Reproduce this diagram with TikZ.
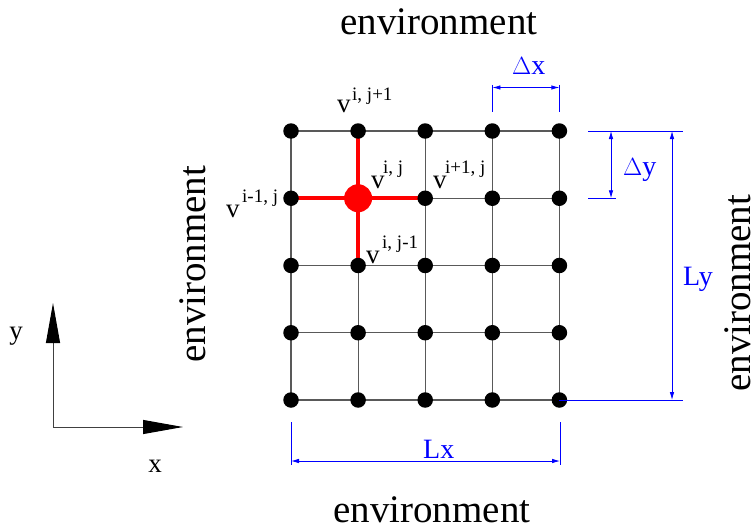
\documentclass[tikz,border=0pt]{standalone}
\usepackage{fontspec}
\setmainfont{Liberation Serif}
\usetikzlibrary{arrows.meta}
\begin{document}
\begin{tikzpicture}[x=1pt,y=-1pt,
  dot/.style={circle,fill=black,inner sep=0pt,minimum size=15.5pt},
  bigdot/.style={circle,fill=red,inner sep=0pt,minimum size=28pt},
  gridline/.style={draw=black!65,line width=1.2pt},
  redline/.style={draw=red,line width=4.2pt},
  dimline/.style={draw=blue,line width=0.8pt},
  dimarrow/.style={dimline,{Latex[length=8pt,width=4.5pt]}-{Latex[length=8pt,width=4.5pt]}},
  envtext/.style={font=\fontsize{39}{39}\selectfont,inner sep=0pt,anchor=base west},
  dimlabel/.style={text=blue,font=\fontsize{28}{28}\selectfont,inner sep=0pt,anchor=base west},
  vtext/.style={font=\fontsize{27}{27}\selectfont,inner sep=0pt,anchor=base west},
  suptext/.style={font=\fontsize{19}{19}\selectfont,inner sep=0pt,anchor=base west},
  axis/.style={draw=black!75,line width=1pt,-{Triangle[length=40pt,width=14pt,fill=black,color=black]}},
]
\useasboundingbox (0,0) rectangle (754,532);

% grid coordinates
\foreach \i in {0,...,4}{
  \foreach \j in {0,...,4}{
    \coordinate (p-\i-\j) at ({291+67.1*\i},{131+67.25*\j});
  }
}
% grid lines
\foreach \k in {0,...,4}{
  \draw[gridline] (p-0-\k) -- (p-4-\k);
  \draw[gridline] (p-\k-0) -- (p-\k-4);
}
% red stencil
\draw[redline] (p-1-0) -- (p-1-2);
\draw[redline] (p-0-1) -- (p-2-1);
\node[bigdot] (centre) at (p-1-1) {};
% dots
\foreach \i in {0,...,4}{
  \foreach \j in {0,...,4}{
    \ifnum\i=1 \ifnum\j=1 \else \node[dot] (d-\i-\j) at (p-\i-\j) {};\fi
    \else \node[dot] (d-\i-\j) at (p-\i-\j) {};\fi
  }
}

% vertex labels
\node[vtext] (v1) at (337,113) {v};
\node[suptext] (s1) at (352,100) {i, j+1};
\node[vtext] (v2) at (226,217) {v};
\node[suptext] (s2) at (242,202) {i-1, j};
\node[vtext] (v3) at (371,188) {v};
\node[suptext] (s3) at (383,173) {i, j};
\node[vtext] (v4) at (433,188) {v};
\node[suptext] (s4) at (445,173) {i+1, j};
\node[vtext] (v5) at (366,263) {v};
\node[suptext] (s5) at (382,248) {i, j-1};

% dimension: Delta x
\coordinate (ex1a) at (492.4,85);
\coordinate (ex1b) at (492.4,112);
\coordinate (ex2a) at (559.4,85);
\coordinate (ex2b) at (559.4,112);
\draw[dimline] (ex1a) -- (ex1b);
\draw[dimline] (ex2a) -- (ex2b);
\coordinate (dxa) at (492.4,87.5);
\coordinate (dxb) at (559.4,87.5);
\draw[dimarrow] (dxa) -- (dxb);
\node[dimlabel] (dxl) at (512,75) {$\Delta$x};

% dimension: Delta y and Ly
\coordinate (ey1a) at (588,131);
\coordinate (ey1b) at (683,131);
\coordinate (ey2a) at (588,198.25);
\coordinate (ey2b) at (616,198.25);
\draw[dimline] (ey1a) -- (ey1b);
\draw[dimline] (ey2a) -- (ey2b);
\coordinate (dya) at (611,131);
\coordinate (dyb) at (611,198.25);
\draw[dimarrow] (dya) -- (dyb);
\node[dimlabel] (dyl) at (623,175) {$\Delta$y};
\coordinate (ey3b) at (683,400);
\draw[dimline] (d-4-4.center) -- (ey3b);
\coordinate (lya) at (672,131);
\coordinate (lyb) at (672,400);
\draw[dimarrow] (lya) -- (lyb);
\node[dimlabel] (lyl) at (683,285) {Ly};

% dimension: Lx
\coordinate (ex3a) at (291,422);
\coordinate (ex3b) at (291,465);
\coordinate (ex4a) at (560,422);
\coordinate (ex4b) at (560,465);
\draw[dimline] (ex3a) -- (ex3b);
\draw[dimline] (ex4a) -- (ex4b);
\coordinate (lxa) at (291,461);
\coordinate (lxb) at (560,461);
\draw[dimarrow] (lxa) -- (lxb);
\node[dimlabel] (lxl) at (423,458) {Lx};

% environment labels
\node[envtext] (envtop) at (340,35) {environment};
\node[envtext] (envbot) at (333,522) {environment};
\node[envtext,rotate=90] (envleft) at (205,363) {environment};
\node[envtext,rotate=90] (envright) at (750,392) {environment};

% axes
\coordinate (o) at (53,427);
\coordinate (ytip) at (53,303);
\coordinate (xtip) at (183,427);
\draw[axis] (o) -- (ytip);
\draw[axis] (o) -- (xtip);
\node[vtext,anchor=center] (ylab) at (16,336) {y};
\node[vtext,anchor=center] (xlab) at (155,466) {x};
\end{tikzpicture}
\end{document}
